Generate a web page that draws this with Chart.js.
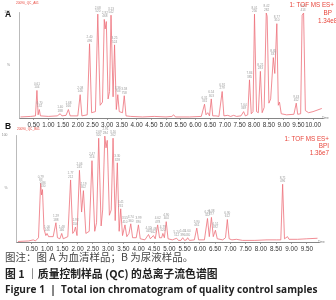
<!DOCTYPE html>
<html>
<head>
<meta charset="utf-8">
<script src="https://cdn.jsdelivr.net/npm/chart.js@4.4.0/dist/chart.umd.min.js"></script>
<style>
  body { margin: 0; background: #fff; }
  #wrap { position: relative; width: 336px; height: 300px; overflow: hidden; font-family: "Liberation Sans", Arial, sans-serif; }
  canvas { position: absolute; left: 0; }
  .t { position: absolute; white-space: nowrap; line-height: 1; }
  .red { color: #e8463c; font-size: 6.3px; }
  .panel { font-weight: bold; font-size: 8.5px; color: #111; }
  .tiny { font-size: 3.2px; color: #e8463c; }
  .time { font-size: 3px; color: #777; }
  .cap { font-family: "Noto Sans CJK SC", sans-serif; left: 5px; }
</style>
</head>
<body>
<div id="wrap">
  <canvas id="chartA" width="336" height="131" style="top:0"></canvas>
  <canvas id="chartB" width="336" height="132" style="top:124px"></canvas>

  <div class="t panel" style="left:5px;top:10px">A</div>
  <div class="t tiny" style="left:16px;top:2px">20090_QC_A01</div>
  <div class="t red" style="right:2px;top:2px">1: TOF MS ES+</div>
  <div class="t red" style="right:4px;top:10px">BP</div>
  <div class="t red" style="left:318px;top:18px">1.34e8</div>
  <div class="t time" style="left:322px;top:117px">Time</div>

  <div class="t panel" style="left:5px;top:122px">B</div>
  <div class="t tiny" style="left:17px;top:128px">20090_QC_B01</div>
  <div class="t red" style="right:7px;top:136px">1: TOF MS ES+</div>
  <div class="t red" style="right:7px;top:143px">BPI</div>
  <div class="t red" style="right:7px;top:150px">1.36e7</div>
  <div class="t time" style="left:318px;top:241px">Time</div>

  <div class="t cap" style="top:252px;font-size:10.5px;color:#444">图注：图 A 为血清样品；B 为尿液样品。</div>
  <div class="t cap" style="top:268px;font-size:10.8px;color:#222;font-weight:bold">图 1 ｜质量控制样品 (QC) 的总离子流色谱图</div>
  <div class="t" style="left:5px;top:284px;font-size:10px;color:#222;font-weight:bold;font-family:'Open Sans',sans-serif;letter-spacing:0.05px">Figure 1 &nbsp;| &nbsp;Total ion chromatogram of quality control samples</div>
</div>

<script>
// panel A: serum sample, retention time (min) vs relative intensity (%)
const timesA = [0.05, 0.40, 0.56, 0.61, 0.65, 0.69, 0.73, 1.00, 1.30, 1.40, 1.46, 1.60, 1.68, 1.74,
  2.00, 2.08, 2.14, 2.32, 2.40, 2.47, 2.60, 2.68, 2.76, 2.84, 2.90, 2.93, 2.97, 3.03, 3.08, 3.13,
  3.20, 3.25, 3.31, 3.36, 3.41, 3.52, 3.58, 3.64, 3.80, 4.20, 4.60, 5.00, 5.20, 5.26, 5.32, 5.80,
  6.20, 6.31, 6.36, 6.42, 6.48, 6.54, 6.59, 6.70, 6.80, 6.91, 6.97, 7.10, 7.20, 7.30, 7.40, 7.55,
  7.64, 7.70, 7.78, 7.84, 7.90, 7.96, 8.01, 8.08, 8.14, 8.21, 8.27, 8.34, 8.41, 8.44, 8.50, 8.56,
  8.65, 8.70, 8.77, 8.82, 8.86, 8.92, 9.10, 9.35, 9.43, 9.48, 9.58, 9.63, 9.68, 9.74, 9.85, 10.00, 10.30];
const valuesA = [1, 1.5, 2, 26, 3, 8, 2, 1.5, 2, 4, 2, 2.5, 8, 2,
  2, 22, 2, 3, 70, 5, 6, 98, 12, 15, 93, 84, 91, 18, 25, 97,
  20, 69, 8, 22, 6, 5, 21, 2, 1.5, 1, 1.5, 1, 1.5, 3, 1, 1,
  1.5, 13, 3, 5, 2, 18, 2, 2, 1.5, 25, 2, 2.5, 1.5, 2.5, 1.5, 2,
  6, 2, 3, 36, 4, 6, 98, 6, 5, 44, 5, 10, 99, 96, 14, 18,
  57, 42, 89, 12, 15, 4, 3, 3.5, 14, 3.5, 4, 97, 99, 7, 5, 6, 9];
const peakTimesA = [0.61, 0.70, 1.40, 1.68, 2.08, 2.40, 2.68, 2.92, 3.13, 3.25, 3.36, 3.58,
  6.31, 6.54, 6.91, 7.64, 7.84, 8.01, 8.21, 8.42, 8.65, 8.77, 9.43, 9.66];
const peakTopsA = [26, 8, 4, 8, 22, 70, 98, 93, 97, 69, 22, 21,
  13, 18, 25, 6, 36, 98, 44, 99, 57, 89, 14, 99];
const peakMzA = [104, 132, 188, 166, 146, 496, 520, 468, 542, 524, 703, 758,
  331, 303, 279, 369, 385, 256, 283, 282, 337, 310, 452, 413];
const ticksA = [0.5, 1.0, 1.5, 2.0, 2.5, 3.0, 3.5, 4.0, 4.5, 5.0, 5.5, 6.0, 6.5, 7.0, 7.5, 8.0, 8.5, 9.0, 9.5, 10.0];

// panel B: urine sample
const timesB = [0.05, 0.40, 0.55, 0.62, 0.72, 0.79, 0.82, 0.85, 0.90, 0.96, 1.00, 1.05, 1.20, 1.29,
  1.34, 1.42, 1.48, 1.53, 1.68, 1.77, 1.84, 1.89, 1.93, 1.98, 2.06, 2.13, 2.19, 2.27, 2.38, 2.47,
  2.56, 2.62, 2.69, 2.77, 2.82, 2.89, 2.93, 2.97, 3.04, 3.10, 3.16, 3.23, 3.30, 3.36, 3.41, 3.47,
  3.55, 3.61, 3.68, 3.74, 3.80, 3.92, 3.99, 4.05, 4.20, 4.32, 4.38, 4.48, 4.54, 4.62, 4.68, 4.75,
  4.79, 4.84, 4.90, 4.96, 5.10, 5.24, 5.30, 5.38, 5.44, 5.50, 5.56, 5.60, 5.66, 5.82, 5.90, 5.96,
  6.15, 6.25, 6.31, 6.38, 6.44, 6.51, 6.57, 6.75, 6.84, 6.90, 6.96, 7.05, 7.20, 7.40, 7.80, 8.20,
  8.50, 8.65, 8.71, 8.77, 8.87, 8.92, 9.20, 9.50, 9.85];
const valuesB = [0.5, 1, 2, 1, 4, 55, 44, 49, 12, 6, 8, 5, 5, 18,
  4, 3, 8, 3, 5, 58, 8, 10, 14, 6, 67, 28, 48, 8, 10, 76,
  10, 18, 97, 15, 30, 99, 88, 95, 25, 30, 97, 20, 74, 10, 31, 6,
  16, 5, 8, 17, 4, 4, 16, 3, 2, 7, 3, 6, 3, 16, 4, 4,
  8, 4, 19, 3, 2, 3.5, 1.5, 1.5, 4, 1.5, 2, 4, 1.5, 2, 13, 2,
  2, 22, 5, 23, 5, 11, 3, 2, 4, 21, 3, 2, 2.5, 1.5, 1.5, 2,
  2, 2, 54, 3, 5, 2.5, 2.5, 3, 3.5];
const peakTimesB = [0.79, 0.86, 1.00, 1.29, 1.48, 1.77, 1.93, 2.06, 2.19, 2.47, 2.69, 2.91, 3.16,
  3.30, 3.41, 3.55, 3.74, 3.99, 4.32, 4.48, 4.62, 4.79, 4.90, 5.24, 5.44, 5.60, 5.90,
  6.25, 6.38, 6.51, 6.90, 8.71];
const peakTopsB = [55, 49, 8, 18, 8, 58, 14, 67, 48, 76, 97, 99, 97,
  74, 31, 16, 17, 16, 7, 6, 16, 8, 19, 3.5, 4, 4, 13,
  22, 23, 11, 21, 54];
const peakMzB = [83, 130, 146, 188, 166, 212, 156, 245, 302, 216, 320, 284, 262,
  328, 231, 410, 360, 390, 445, 462, 478, 520, 404, 512, 396, 430, 461,
  322, 377, 392, 612, 496];
const ticksB = [0.5, 1.0, 1.5, 2.0, 2.5, 3.0, 3.5, 4.0, 4.5, 5.0, 5.5, 6.0, 6.5, 7.0, 7.5, 8.0, 8.5, 9.0, 9.5];

function peakLabelPlugin(times, tops, mz) {
  return {
    id: 'peakLabels',
    afterDatasetsDraw(chart) {
      const ctx = chart.ctx;
      const xs = chart.scales.x, ys = chart.scales.y;
      ctx.save();
      ctx.fillStyle = '#9a9a9a';
      ctx.font = '3.1px "Liberation Sans"';
      ctx.textAlign = 'center';
      ctx.textBaseline = 'bottom';
      times.forEach((t, i) => {
        const x = xs.getPixelForValue(t);
        const y = ys.getPixelForValue(tops[i]) - 1.5;
        ctx.fillText(String(mz[i]), x, y);
        ctx.fillText(t.toFixed(2), x, y - 3.4);
      });
      ctx.restore();
    }
  };
}

function makeChart(id, times, values, ticks, xMax, pad, yWidth, xHeight, labels) {
  const points = times.map((t, i) => ({ x: t, y: values[i] }));
  return new Chart(document.getElementById(id), {
    type: 'line',
    data: {
      datasets: [{
        data: points,
        borderColor: 'rgb(238,112,122)',
        borderWidth: 0.8,
        pointRadius: 0,
        tension: 0,
        clip: false
      }]
    },
    options: {
      responsive: false,
      animation: false,
      devicePixelRatio: 1,
      layout: { padding: pad },
      plugins: { legend: { display: false }, tooltip: { enabled: false } },
      scales: {
        x: {
          type: 'linear',
          min: 0,
          max: xMax,
          afterBuildTicks: s => { s.ticks = ticks.map(v => ({ value: v })); },
          afterFit: s => { s.height = xHeight; },
          grid: { drawOnChartArea: false, tickLength: 2, color: '#666', lineWidth: 0.6 },
          border: { color: '#666', width: 0.8 },
          ticks: {
            autoSkip: false,
            maxRotation: 0,
            padding: 1.5,
            color: '#333',
            font: { size: 6.3, family: 'Liberation Sans' },
            callback: v => v.toFixed(2)
          }
        },
        y: {
          min: 0,
          max: 100,
          afterBuildTicks: s => { s.ticks = [{ value: 50 }, { value: 100 }]; },
          afterFit: s => { s.width = yWidth; },
          grid: { display: false },
          border: { color: '#aaa', width: 0.8 },
          ticks: {
            padding: 1,
            color: '#888',
            font: { size: 3.4, family: 'Liberation Sans' },
            callback: v => (v === 100 ? '100' : '%')
          }
        }
      }
    },
    plugins: [labels]
  });
}

makeChart('chartA', timesA, valuesA, ticksA, 10.34, { top: 12, right: 13, left: 0, bottom: 0 }, 19, 13,
  peakLabelPlugin(peakTimesA, peakTopsA, peakMzA));
makeChart('chartB', timesB, valuesB, ticksB, 9.9, { top: 11, right: 17, left: 0, bottom: 0 }, 16.5, 14,
  peakLabelPlugin(peakTimesB, peakTopsB, peakMzB));
</script>
</body>
</html>
